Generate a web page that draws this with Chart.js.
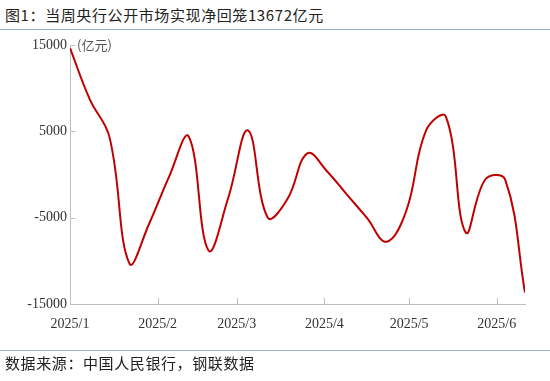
<!DOCTYPE html>
<html>
<head>
<meta charset="utf-8">
<script src="https://cdn.jsdelivr.net/npm/chart.js@4.4.1/dist/chart.umd.min.js"></script>
<style>
  html, body { margin: 0; padding: 0; background: #fff; }
  #wrap { position: relative; width: 550px; height: 381px; overflow: hidden; }
  #title { position: absolute; left: 5px; top: 5px; font-family: "Noto Sans CJK SC", sans-serif; font-size: 15px; letter-spacing: 0.6px; color: #222; white-space: nowrap; line-height: 20px; }
  #topline { position: absolute; left: 0; top: 29px; width: 550px; height: 0; border-top: 1.5px solid #9fb3d6; }
  #botline { position: absolute; left: 0; top: 350px; width: 550px; height: 0; border-top: 1.5px solid #9fb3d6; }
  #source { position: absolute; left: 5px; top: 353px; font-family: "Noto Sans CJK SC", sans-serif; font-size: 15px; letter-spacing: 0.6px; color: #222; white-space: nowrap; line-height: 20px; }
  #unit { position: absolute; left: 77px; top: 37px; font-family: "Noto Sans CJK SC", sans-serif; font-size: 13px; color: #555; white-space: nowrap; line-height: 16px; }
  canvas { position: absolute; left: 0; top: 0; }
</style>
</head>
<body>
<div id="wrap">
  <div id="title">图1：当周央行公开市场实现净回笼13672亿元</div>
  <div id="topline"></div>
  <canvas id="c" width="550" height="381"></canvas>
  <div id="unit">(亿元)</div>
  <div id="botline"></div>
  <div id="source">数据来源：中国人民银行，钢联数据</div>
</div>
<script>
// weekly dates (Fridays)
const weekDates = ["2025-01-03","2025-01-10","2025-01-17","2025-01-24","2025-01-31","2025-02-07",
  "2025-02-14","2025-02-21","2025-02-28","2025-03-07","2025-03-14","2025-03-21","2025-03-28",
  "2025-04-04","2025-04-11","2025-04-18","2025-04-25","2025-05-02","2025-05-09","2025-05-16",
  "2025-05-23","2025-05-30","2025-06-06","2025-06-13"];
// net injection (亿元)
const netInjection = [14650, 8700, 4300, -10300, -5700, -300, 4400, -8800, -2700, 5100, -5000, -2800, 2450,
  350, -2330, -5000, -7800, -4200, 5100, 6700, -6700, -550, -600, -13672];
// x tick labels and their dates
const monthTickDates = ["2025-01-03","2025-02-03","2025-03-03","2025-04-03","2025-05-03","2025-06-03"];
const monthTickLabels = ["2025/1","2025/2","2025/3","2025/4","2025/5","2025/6"];
// y ticks
const yTickValues = [-15000, -5000, 5000, 15000];

const DAY = 86400000;
const origin = Date.parse(weekDates[0] + "T00:00:00Z");
const toDay = d => Math.round((Date.parse(d + "T00:00:00Z") - origin) / DAY);
const points = weekDates.map((d, i) => ({ x: toDay(d), y: netInjection[i] }));
const tickDays = monthTickDates.map(toDay);

const axisColor = '#bfbfbf';
const insideTicks = {
  id: 'insideTicks',
  afterDraw(chart) {
    const ctx = chart.ctx, xs = chart.scales.x, ys = chart.scales.y;
    const a = chart.chartArea;
    ctx.save();
    ctx.strokeStyle = axisColor;
    ctx.lineWidth = 1;
    ctx.beginPath();
    yTickValues.forEach(v => {
      const y = Math.round(ys.getPixelForValue(v)) + 0.5;
      ctx.moveTo(a.left, y); ctx.lineTo(a.left + 5, y);
    });
    tickDays.forEach(d => {
      const x = Math.round(xs.getPixelForValue(d)) + 0.5;
      ctx.moveTo(x, a.bottom); ctx.lineTo(x, a.bottom - 6);
    });
    ctx.stroke();
    ctx.restore();
  }
};

new Chart(document.getElementById('c'), {
  type: 'line',
  data: {
    datasets: [{
      data: points,
      borderColor: '#c00000',
      borderWidth: 2,
      pointRadius: 0,
      tension: 0.4,
      fill: false
    }]
  },
  options: {
    responsive: false,
    animation: false,
    events: [],
    layout: { padding: { left: 0, top: 45, right: 25, bottom: 0 } },
    plugins: { legend: { display: false }, tooltip: { enabled: false } },
    scales: {
      x: {
        type: 'linear',
        min: 0,
        max: toDay(weekDates[weekDates.length - 1]),
        afterBuildTicks: s => { s.ticks = tickDays.map(v => ({ value: v })); },
        afterFit: s => { s.height = 77; },
        grid: { display: true, drawOnChartArea: false, drawTicks: false },
        border: { display: true, color: axisColor, width: 1 },
        ticks: {
          callback: (v) => monthTickLabels[tickDays.indexOf(v)],
          font: { family: 'Liberation Serif', size: 14 },
          color: '#333',
          padding: 12,
          maxRotation: 0,
          autoSkip: false
        }
      },
      y: {
        min: -15000,
        max: 15000,
        afterBuildTicks: s => { s.ticks = yTickValues.map(v => ({ value: v })); },
        afterFit: s => { s.width = 70; },
        grid: { display: true, drawOnChartArea: false, drawTicks: false },
        border: { display: true, color: axisColor, width: 1 },
        ticks: {
          callback: v => String(v),
          font: { family: 'Liberation Serif', size: 14 },
          color: '#333',
          padding: 3
        }
      }
    }
  },
  plugins: [insideTicks]
});
</script>
</body>
</html>
